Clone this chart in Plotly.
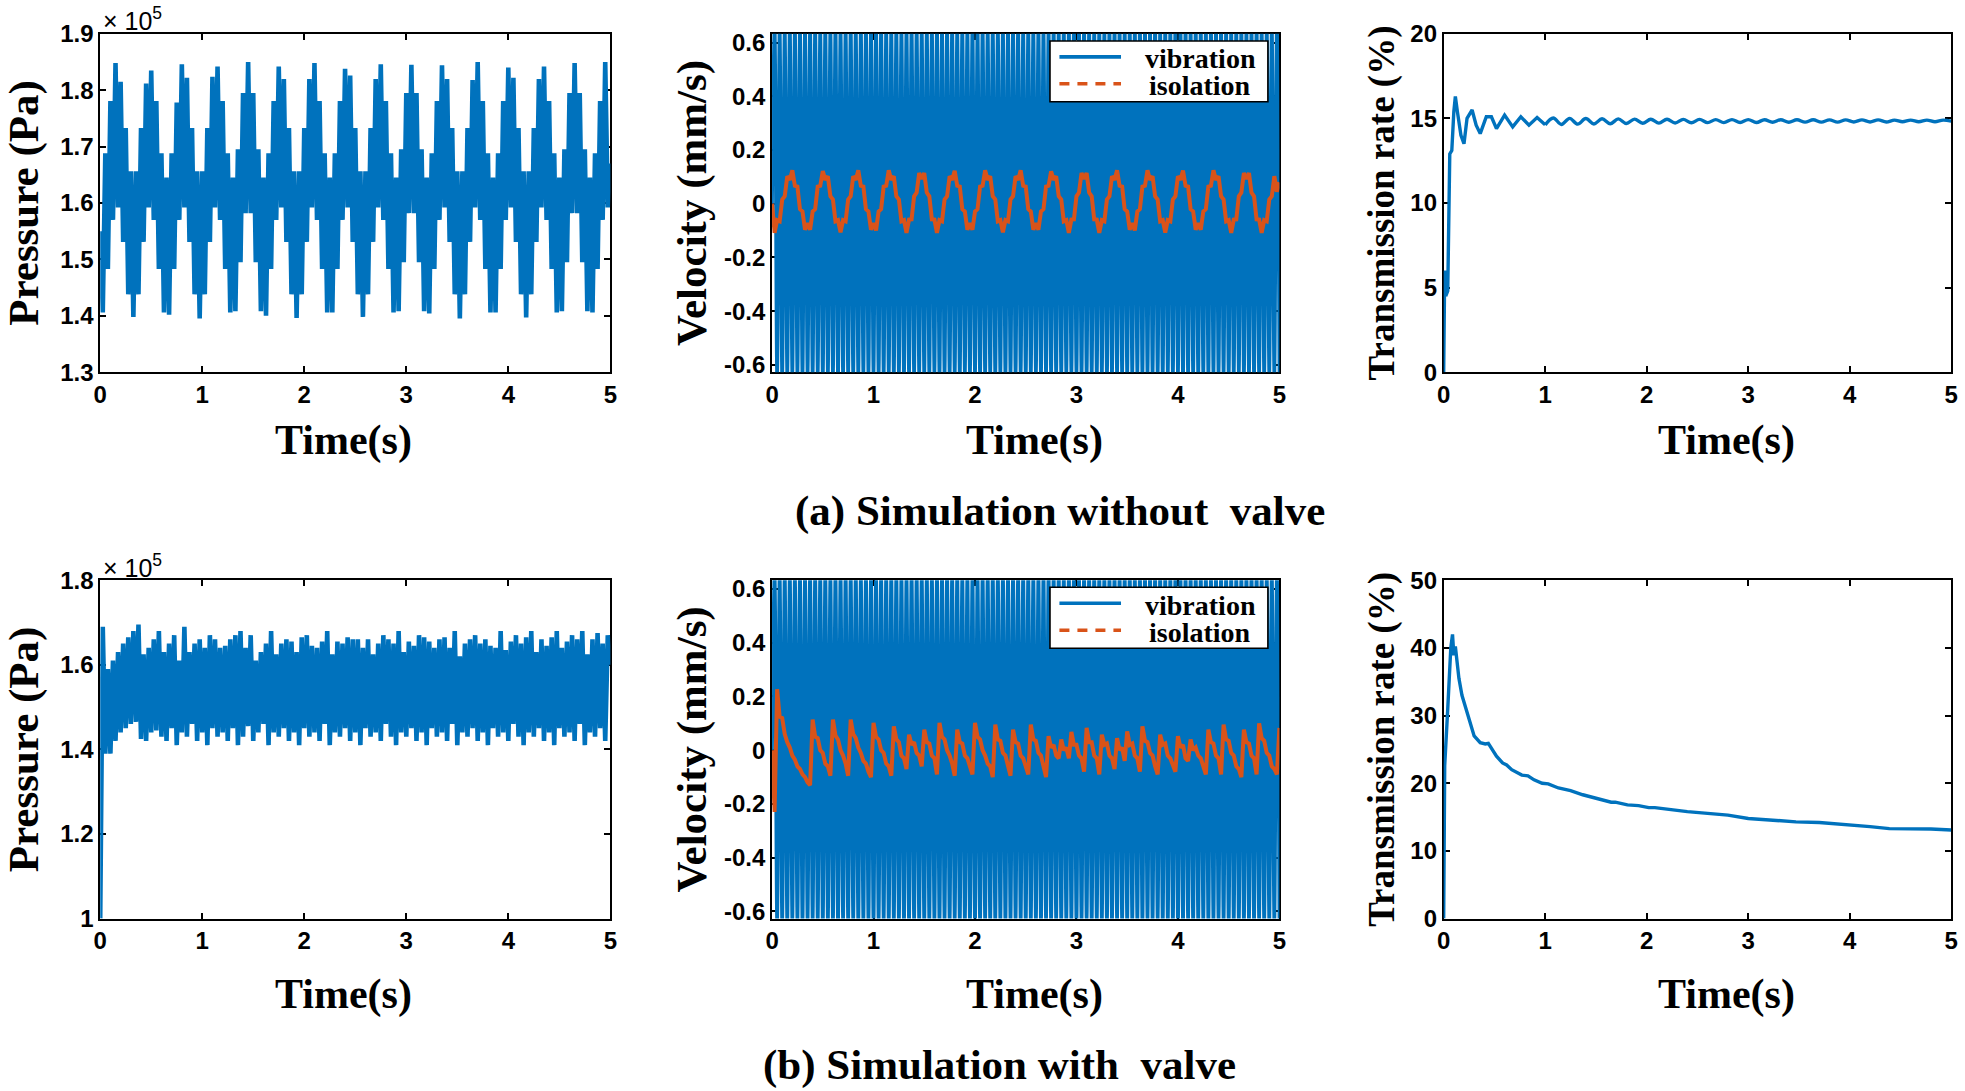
import plotly.graph_objects as go

# ---------------- data ----------------
# dense signals are sampled every 0.025 s from t = 0 to t = 5 s
DT = 0.025

# (a) without valve: pressure in units of 1e5 Pa
pressure_a = [
    1.55, 1.406, 1.688, 1.483, 1.781, 1.570, 1.848, 1.592, 1.815, 1.531, 1.733, 1.438, 1.656,
    1.398, 1.656, 1.438, 1.733, 1.531, 1.812, 1.592, 1.835, 1.570, 1.781, 1.483, 1.688, 1.406,
    1.645, 1.402, 1.688, 1.483, 1.778, 1.570, 1.846, 1.592, 1.822, 1.531, 1.733, 1.438, 1.656,
    1.395, 1.656, 1.438, 1.733, 1.531, 1.824, 1.592, 1.842, 1.570, 1.781, 1.483, 1.688, 1.406,
    1.645, 1.408, 1.695, 1.495, 1.795, 1.582, 1.850, 1.582, 1.795, 1.495, 1.695, 1.408,
    1.645, 1.400, 1.688, 1.483, 1.781, 1.570, 1.842, 1.592, 1.820, 1.531, 1.733, 1.438, 1.656,
    1.396, 1.656, 1.438, 1.733, 1.531, 1.820, 1.592, 1.848, 1.570, 1.781, 1.483, 1.688, 1.406,
    1.645, 1.406, 1.688, 1.483, 1.781, 1.570, 1.838, 1.592, 1.826, 1.531, 1.733, 1.438, 1.656,
    1.398, 1.656, 1.438, 1.733, 1.531, 1.820, 1.592, 1.846, 1.570, 1.781, 1.483, 1.688, 1.406,
    1.645, 1.408, 1.695, 1.495, 1.795, 1.582, 1.845, 1.582, 1.795, 1.495, 1.695, 1.408,
    1.645, 1.404, 1.688, 1.483, 1.781, 1.570, 1.844, 1.592, 1.820, 1.531, 1.733, 1.438, 1.656,
    1.395, 1.656, 1.438, 1.733, 1.531, 1.818, 1.592, 1.850, 1.570, 1.781, 1.483, 1.688, 1.406,
    1.645, 1.406, 1.688, 1.483, 1.781, 1.570, 1.840, 1.592, 1.822, 1.531, 1.733, 1.438, 1.656,
    1.397, 1.656, 1.438, 1.733, 1.531, 1.820, 1.592, 1.842, 1.570, 1.781, 1.483, 1.688, 1.406,
    1.645, 1.408, 1.695, 1.495, 1.795, 1.582, 1.848, 1.582, 1.795, 1.495, 1.695, 1.408,
    1.645, 1.406, 1.688, 1.483, 1.781, 1.570, 1.850, 1.592, 1.670,
]

vibration_a = [
    0.0, 0.66, -0.64, 0.655, -0.645, 0.66, -0.64, 0.665, -0.635, 0.66,
    -0.64, 0.655, -0.645, 0.66, -0.64, 0.665, -0.64, 0.66, -0.635, 0.655,
    -0.645, 0.66, -0.64, 0.66, -0.635, 0.665, -0.645, 0.655, -0.64, 0.66,
    -0.64, 0.665, -0.64, 0.655, -0.645, 0.66, -0.635, 0.66, -0.64, 0.665,
    -0.635, 0.66, -0.645, 0.665, -0.64, 0.655, -0.64, 0.66, -0.645, 0.66,
    -0.64, 0.655, -0.645, 0.66, -0.64, 0.665, -0.64, 0.66, -0.635, 0.655,
    -0.645, 0.66, -0.64, 0.66, -0.635, 0.665, -0.645, 0.655, -0.64, 0.66,
    -0.64, 0.665, -0.64, 0.655, -0.645, 0.66, -0.635, 0.66, -0.64, 0.665,
    -0.635, 0.66, -0.645, 0.665, -0.64, 0.655, -0.64, 0.66, -0.645, 0.66,
    -0.64, 0.655, -0.645, 0.66, -0.64, 0.665, -0.64, 0.66, -0.635, 0.655,
    -0.645, 0.66, -0.64, 0.66, -0.635, 0.665, -0.645, 0.655, -0.64, 0.66,
    -0.64, 0.665, -0.64, 0.655, -0.645, 0.66, -0.635, 0.66, -0.64, 0.665,
    -0.635, 0.66, -0.645, 0.665, -0.64, 0.655, -0.64, 0.66, -0.645, 0.66,
    -0.64, 0.655, -0.645, 0.66, -0.64, 0.665, -0.64, 0.66, -0.635, 0.655,
    -0.645, 0.66, -0.64, 0.66, -0.635, 0.665, -0.645, 0.655, -0.64, 0.66,
    -0.64, 0.665, -0.64, 0.655, -0.645, 0.66, -0.635, 0.66, -0.64, 0.665,
    -0.635, 0.66, -0.645, 0.665, -0.64, 0.655, -0.64, 0.66, -0.645, 0.66,
    -0.64, 0.655, -0.645, 0.66, -0.64, 0.665, -0.64, 0.66, -0.635, 0.655,
    -0.645, 0.66, -0.64, 0.66, -0.635, 0.665, -0.645, 0.655, -0.64, 0.66,
    -0.64, 0.665, -0.64, 0.655, -0.645, 0.66, -0.635, 0.66, -0.64, 0.665,
    -0.64,
]

isolation_a = [
    0.0,
    -0.108, -0.061, -0.065, 0.016, 0.028, 0.103, 0.089, 0.125, 0.067, 0.064, -0.020, -0.029, -0.097,
    -0.072, -0.097, -0.029, -0.020, 0.064, 0.067, 0.122, 0.089, 0.103, 0.028, 0.016, -0.065, -0.061,
    -0.106, -0.061, -0.065, 0.016, 0.028, 0.103, 0.089, 0.125, 0.067, 0.064, -0.020, -0.029, -0.097,
    -0.072, -0.099, -0.029, -0.020, 0.064, 0.067, 0.125, 0.089, 0.103, 0.028, 0.016, -0.065, -0.061,
    -0.108, -0.059, -0.058, 0.028, 0.042, 0.115, 0.092, 0.115, 0.042, 0.028, -0.058, -0.059,
    -0.108, -0.061, -0.065, 0.016, 0.028, 0.103, 0.089, 0.123, 0.067, 0.064, -0.020, -0.029, -0.097,
    -0.072, -0.097, -0.029, -0.020, 0.064, 0.067, 0.125, 0.089, 0.103, 0.028, 0.016, -0.065, -0.061,
    -0.106, -0.061, -0.065, 0.016, 0.028, 0.103, 0.089, 0.125, 0.067, 0.064, -0.020, -0.029, -0.097,
    -0.072, -0.097, -0.029, -0.020, 0.064, 0.067, 0.121, 0.089, 0.103, 0.028, 0.016, -0.065, -0.061,
    -0.108, -0.059, -0.058, 0.028, 0.042, 0.115, 0.092, 0.115, 0.042, 0.028, -0.058, -0.059,
    -0.108, -0.061, -0.065, 0.016, 0.028, 0.103, 0.089, 0.125, 0.067, 0.064, -0.020, -0.029, -0.097,
    -0.072, -0.099, -0.029, -0.020, 0.064, 0.067, 0.125, 0.089, 0.103, 0.028, 0.016, -0.065, -0.061,
    -0.107, -0.061, -0.065, 0.016, 0.028, 0.103, 0.089, 0.124, 0.067, 0.064, -0.020, -0.029, -0.097,
    -0.072, -0.097, -0.029, -0.020, 0.064, 0.067, 0.125, 0.089, 0.103, 0.028, 0.016, -0.065, -0.061,
    -0.108, -0.059, -0.058, 0.028, 0.042, 0.115, 0.092, 0.115, 0.042, 0.028, -0.058, -0.059,
    -0.108, -0.061, -0.065, 0.016, 0.028, 0.103, 0.045, 0.080,
]

# transmission rate (%), transient then every 0.08 s from t = 1.0 s
trans_a_t = [0, 0.01, 0.02, 0.04, 0.06, 0.08, 0.1, 0.115, 0.135, 0.15, 0.17, 0.2, 0.23,
             0.28, 0.32, 0.36, 0.42, 0.47, 0.52, 0.6, 0.68, 0.76, 0.84, 0.92, 1.0]
trans_a = [0, 6.0, 4.5, 4.8, 12.9, 13.1, 15.4, 16.3, 15.4, 14.8, 14.0, 13.5, 15.0,
           15.5, 14.6, 14.1, 15.1, 15.1, 14.4, 15.2, 14.5, 15.1, 14.6, 15.05, 14.62]
trans_a_tail = [
    14.62, 15.02, 14.64, 15.0, 14.66, 14.99, 14.67, 14.98, 14.68, 14.97,
    14.70, 14.96, 14.71, 14.95, 14.72, 14.95, 14.73, 14.94, 14.74, 14.94,
    14.75, 14.93, 14.75, 14.93, 14.76, 14.93, 14.76, 14.92, 14.77, 14.92,
    14.77, 14.92, 14.78, 14.92, 14.78, 14.91, 14.78, 14.91, 14.79, 14.91,
    14.79, 14.91, 14.79, 14.90, 14.80, 14.90, 14.80, 14.90, 14.80, 14.90,
    14.84,
]

# (b) with valve
pressure_b = [
    1.0,
    1.69, 1.39, 1.59, 1.39, 1.61, 1.42, 1.63, 1.44, 1.65, 1.45, 1.665, 1.46, 1.68, 1.465, 1.695,
    1.425, 1.625, 1.42, 1.64,
    1.44, 1.66, 1.445, 1.68, 1.43, 1.63, 1.42, 1.65, 1.45, 1.67,
    1.41, 1.61, 1.44, 1.69, 1.43, 1.63, 1.46, 1.65, 1.42, 1.66,
    1.44, 1.64, 1.41, 1.67, 1.45, 1.66, 1.43, 1.64, 1.44, 1.645,
    1.42, 1.66, 1.45, 1.67, 1.41, 1.68, 1.43, 1.64, 1.455, 1.67,
    1.42, 1.61, 1.44, 1.63, 1.46, 1.65, 1.41, 1.68, 1.44, 1.625,
    1.43, 1.65, 1.45, 1.66, 1.42, 1.655, 1.44, 1.63, 1.41, 1.665,
    1.45, 1.67, 1.43, 1.645, 1.44, 1.64, 1.42, 1.655, 1.46, 1.68,
    1.41, 1.625, 1.44, 1.655, 1.43, 1.65, 1.45, 1.665, 1.42, 1.66,
    1.44, 1.66, 1.41, 1.64, 1.45, 1.66, 1.43, 1.625, 1.44, 1.65,
    1.42, 1.67, 1.46, 1.66, 1.43, 1.65, 1.41, 1.68, 1.44, 1.63,
    1.43, 1.655, 1.45, 1.645, 1.42, 1.67, 1.44, 1.665, 1.41, 1.655,
    1.45, 1.64, 1.43, 1.66, 1.44, 1.665, 1.42, 1.64, 1.46, 1.68,
    1.41, 1.62, 1.44, 1.65, 1.43, 1.66, 1.45, 1.67, 1.42, 1.65,
    1.44, 1.66, 1.41, 1.645, 1.45, 1.64, 1.43, 1.68, 1.44, 1.635,
    1.42, 1.655, 1.46, 1.67, 1.43, 1.65, 1.41, 1.665, 1.44, 1.68,
    1.43, 1.63, 1.45, 1.66, 1.42, 1.645, 1.44, 1.665, 1.41, 1.68,
    1.45, 1.64, 1.43, 1.655, 1.44, 1.67, 1.42, 1.66, 1.46, 1.68,
    1.41, 1.625, 1.44, 1.66, 1.43, 1.675, 1.45, 1.65, 1.42, 1.67,
    1.60,
]

vibration_b = [
    0.0, 0.655, -0.64, 0.66, -0.64, 0.665, -0.645, 0.66, -0.635, 0.655,
    -0.64, 0.66, -0.645, 0.655, -0.64, 0.665, -0.635, 0.66, -0.64, 0.66,
    -0.645, 0.665, -0.64, 0.655, -0.64, 0.66, -0.645, 0.66, -0.635, 0.665,
    -0.64, 0.66, -0.635, 0.665, -0.645, 0.655, -0.64, 0.66, -0.64, 0.655,
    -0.645, 0.655, -0.64, 0.66, -0.635, 0.66, -0.645, 0.665, -0.64, 0.66,
    -0.64, 0.66, -0.645, 0.655, -0.64, 0.665, -0.635, 0.66, -0.64, 0.66,
    -0.645, 0.665, -0.64, 0.655, -0.64, 0.66, -0.645, 0.66, -0.635, 0.665,
    -0.64, 0.66, -0.635, 0.665, -0.645, 0.655, -0.64, 0.66, -0.64, 0.655,
    -0.645, 0.655, -0.64, 0.66, -0.635, 0.66, -0.645, 0.665, -0.64, 0.66,
    -0.64, 0.66, -0.645, 0.655, -0.64, 0.665, -0.635, 0.66, -0.64, 0.66,
    -0.645, 0.665, -0.64, 0.655, -0.64, 0.66, -0.645, 0.66, -0.635, 0.665,
    -0.64, 0.66, -0.635, 0.665, -0.645, 0.655, -0.64, 0.66, -0.64, 0.655,
    -0.645, 0.655, -0.64, 0.66, -0.635, 0.66, -0.645, 0.665, -0.64, 0.66,
    -0.64, 0.66, -0.645, 0.655, -0.64, 0.665, -0.635, 0.66, -0.64, 0.66,
    -0.645, 0.665, -0.64, 0.655, -0.64, 0.66, -0.645, 0.66, -0.635, 0.665,
    -0.64, 0.66, -0.635, 0.665, -0.645, 0.655, -0.64, 0.66, -0.64, 0.655,
    -0.645, 0.655, -0.64, 0.66, -0.635, 0.66, -0.645, 0.665, -0.64, 0.66,
    -0.64, 0.66, -0.645, 0.655, -0.64, 0.665, -0.635, 0.66, -0.64, 0.66,
    -0.645, 0.665, -0.64, 0.655, -0.64, 0.66, -0.645, 0.66, -0.635, 0.665,
    -0.64, 0.66, -0.635, 0.665, -0.645, 0.655, -0.64, 0.66, -0.64, 0.655,
    -0.64,
]

isolation_b = [
    0.0, -0.23, 0.227, 0.125, 0.12, 0.06, 0.03, 0.01, -0.02, -0.035, -0.06, -0.07, -0.09, -0.10, -0.12, -0.13,
    0.114, 0.05, 0.045, 0.0, -0.01, -0.05, -0.06, -0.095,
    0.114, 0.055, 0.04, 0.0, -0.02, -0.05, -0.095,
    0.114, 0.06, 0.045, 0.01, -0.01, -0.04, -0.05, -0.08, -0.1,
    0.102, 0.05, 0.04, 0.0, -0.01, -0.05, -0.06, -0.095,
    0.089, 0.04, 0.03, -0.02, -0.03, -0.07,
    0.058, 0.02, 0.03, -0.01, -0.02, -0.06,
    0.077, 0.03, 0.025, -0.02, -0.03, -0.09,
    0.102, 0.05, 0.04, 0.0, -0.02, -0.05, -0.095,
    0.077, 0.03, 0.025, -0.02, -0.03, -0.06, -0.09,
    0.102, 0.05, 0.04, 0.0, -0.02, -0.05, -0.06, -0.1,
    0.095, 0.04, 0.035, -0.01, -0.02, -0.06, -0.095,
    0.077, 0.03, 0.025, -0.02, -0.03, -0.06, -0.09,
    0.095, 0.04, 0.035, -0.01, -0.02, -0.06, -0.1,
    0.052, 0.01, 0.02, -0.02, -0.03,
    0.04, 0.0, 0.01, -0.03,
    0.068, 0.02, 0.02, -0.02, -0.03, -0.08,
    0.083, 0.03, 0.03, -0.02, -0.03, -0.09,
    0.058, 0.02, 0.025, -0.02, -0.03, -0.07,
    0.045, 0.0, 0.01, -0.04,
    0.07, 0.02, 0.025, -0.02, -0.03, -0.08,
    0.089, 0.035, 0.03, -0.01, -0.02, -0.06, -0.09,
    0.058, 0.02, 0.025, -0.02, -0.03, -0.06, -0.08,
    0.052, 0.01, 0.02, -0.03, -0.04,
    0.04, 0.0, 0.01, -0.02, -0.03, -0.06, -0.09,
    0.077, 0.03, 0.025, -0.02, -0.03, -0.09,
    0.095, 0.04, 0.035, -0.01, -0.02, -0.06, -0.07, -0.1,
    0.077, 0.03, 0.025, -0.02, -0.03, -0.09,
    0.10, 0.045, 0.035, -0.01, -0.02, -0.06, -0.07, -0.09,
    0.083,
]

trans_b_t = [0, 0.005, 0.01, 0.04, 0.07, 0.087, 0.1, 0.115, 0.13, 0.15, 0.18, 0.22, 0.26,
             0.3, 0.36, 0.41, 0.44, 0.48, 0.52, 0.58, 0.62, 0.67, 0.77, 0.83, 0.89, 0.97,
             1.03, 1.13, 1.21, 1.25, 1.37, 1.45, 1.55, 1.65, 1.69, 1.81, 1.92, 2.02, 2.08,
             2.25, 2.3, 2.4, 2.48, 2.6, 2.8, 3.0, 3.2, 3.47, 3.7, 3.99, 4.2, 4.39, 4.6,
             4.8, 5.0]
trans_b = [0, 12.0, 22.6, 31.0, 40.0, 42.0, 38.9, 40.2, 38.0, 35.5, 33.0, 31.0, 29.0,
           27.0, 26.0, 25.8, 25.9, 25.0, 24.0, 23.0, 22.7, 22.0, 21.2, 21.1, 20.5, 20.0,
           19.9, 19.3, 19.0, 18.9, 18.3, 18.0, 17.6, 17.2, 17.2, 16.8, 16.7, 16.4, 16.4,
           16.0, 16.0, 15.8, 15.7, 15.6, 15.3, 14.8, 14.6, 14.3, 14.2, 13.9, 13.6, 13.3, 13.3,
           13.25, 13.1]

# axis ticks
time_ticks = [0, 1, 2, 3, 4, 5]
vel_ticks = [-0.6, -0.4, -0.2, 0, 0.2, 0.4, 0.6]
vel_labels = ["-0.6", "-0.4", "-0.2", "0", "0.2", "0.4", "0.6"]

# ---------------- figure ----------------
BLUE = "#0072BD"
ORANGE = "#D95319"
SERIF = "Liberation Serif, Times New Roman, serif"
SANS = "Liberation Sans, Arial, sans-serif"

fig = go.Figure()


def line_trace(xa, ya, color, width, shape="linear", **kw):
    return go.Scatter(mode="lines", line=dict(color=color, width=width, shape=shape),
                      xaxis=xa, yaxis=ya, showlegend=False, hoverinfo="skip", **kw)


fig.add_trace(line_trace("x", "y", BLUE, 4.6, y=pressure_a, x0=0, dx=DT))
fig.add_trace(line_trace("x2", "y2", BLUE, 3.6, "spline", y=vibration_a, x0=0, dx=DT))
fig.add_trace(line_trace("x2", "y2", ORANGE, 4.0, y=isolation_a, x0=0, dx=DT))
fig.add_trace(line_trace("x3", "y3", BLUE, 3.4, x=trans_a_t, y=trans_a))
fig.add_trace(line_trace("x3", "y3", BLUE, 3.4, "spline", y=trans_a_tail, x0=1.0, dx=0.08))

fig.add_trace(line_trace("x4", "y4", BLUE, 4.6, y=pressure_b, x0=0, dx=DT))
fig.add_trace(line_trace("x5", "y5", BLUE, 3.6, "spline", y=vibration_b, x0=0, dx=DT))
fig.add_trace(line_trace("x5", "y5", ORANGE, 4.0, y=isolation_b, x0=0, dx=DT))
fig.add_trace(line_trace("x6", "y6", BLUE, 3.4, x=trans_b_t, y=trans_b))

cols = [(0.0510, 0.3106), (0.3929, 0.6511), (0.7347, 0.9930)]
rows = [(0.6589, 0.9690), (0.1580, 0.4682)]


def frame(**extra):
    ax = dict(showline=True, linecolor="black", linewidth=1.8, mirror="ticks",
              ticks="inside", ticklen=6, tickwidth=1.5, tickcolor="black",
              showgrid=False, zeroline=False, layer="below traces", automargin=False,
              tickfont=dict(family=SANS, size=24, color="black", weight="bold"))
    ax.update(extra)
    return ax


def ytitle(text, size, standoff=6):
    return dict(text=text, font=dict(family=SERIF, size=size, color="black", weight="bold"),
                standoff=standoff)


y_specs = [
    dict(range=[1.3, 1.9], tickvals=[1.3, 1.4, 1.5, 1.6, 1.7, 1.8, 1.9], title=ytitle("Pressure (Pa)", 43, 9)),
    dict(range=[-0.627, 0.633], tickvals=vel_ticks, ticktext=vel_labels, title=ytitle("Velocity (mm/s)", 43, 4)),
    dict(range=[0, 20], tickvals=[0, 5, 10, 15, 20], title=ytitle("Transmission rate (%)", 37, 4)),
    dict(range=[1, 1.8], tickvals=[1, 1.2, 1.4, 1.6, 1.8], title=ytitle("Pressure (Pa)", 43, 9)),
    dict(range=[-0.627, 0.633], tickvals=vel_ticks, ticktext=vel_labels, title=ytitle("Velocity (mm/s)", 43, 4)),
    dict(range=[0, 50], tickvals=[0, 10, 20, 30, 40, 50], title=ytitle("Transmission rate (%)", 37, 4)),
]

layout_axes = {}
for i in range(6):
    r, c = divmod(i, 3)
    n = "" if i == 0 else str(i + 1)
    layout_axes["xaxis" + n] = frame(domain=list(cols[c]), anchor="y" + n, range=[0, 5],
                                     tickvals=time_ticks)
    layout_axes["yaxis" + n] = frame(domain=list(rows[r]), anchor="x" + n, **y_specs[i])

fig.update_layout(
    width=1965, height=1091,
    margin=dict(l=0, r=0, t=0, b=0, autoexpand=False),
    paper_bgcolor="white", plot_bgcolor="white",
    showlegend=False,
    **layout_axes,
)

# x axis titles and panel captions
time_pos = [0.1746, 0.5267, 0.8784]
for yy in (0.5958, 0.0889):
    for xx in time_pos:
        fig.add_annotation(text="Time(s)", x=xx, y=yy, xref="paper", yref="paper",
                           showarrow=False, xanchor="center", yanchor="middle",
                           font=dict(family=SERIF, size=42, color="black", weight="bold"))

fig.add_annotation(text="(a) Simulation without  valve", x=0.5392, y=0.5313, xref="paper", yref="paper",
                   showarrow=False, xanchor="center", yanchor="middle",
                   font=dict(family=SERIF, size=43, color="black", weight="bold"))
fig.add_annotation(text="(b) Simulation with  valve", x=0.5089, y=0.0236, xref="paper", yref="paper",
                   showarrow=False, xanchor="center", yanchor="middle",
                   font=dict(family=SERIF, size=43, color="black", weight="bold"))

# exponent labels on the pressure axes
for yy in (0.9826, 0.4812):
    fig.add_annotation(text="× 10<sup>5</sup>", x=0.0515, y=yy, xref="paper", yref="paper",
                       showarrow=False, xanchor="left", yanchor="middle",
                       font=dict(family=SANS, size=25, color="black"))

# legend boxes on the velocity panels
for xd, yd in (("x2 domain", "y2 domain"), ("x5 domain", "y5 domain")):
    fig.add_shape(type="rect", xref=xd, yref=yd, x0=0.5478, x1=0.9773, y0=0.799, y1=0.979,
                  fillcolor="white", line=dict(color="black", width=1.6))
    fig.add_shape(type="line", xref=xd, yref=yd, x0=0.5664, x1=0.6878, y0=0.932, y1=0.932,
                  line=dict(color=BLUE, width=3.6))
    fig.add_shape(type="line", xref=xd, yref=yd, x0=0.5664, x1=0.6878, y0=0.8522, y1=0.8522,
                  line=dict(color=ORANGE, width=3.6, dash="10px,8px"))
    for label, yy in (("vibration", 0.926), ("isolation", 0.8463)):
        fig.add_annotation(text=label, x=0.8438, y=yy, xref=xd, yref=yd, showarrow=False,
                           xanchor="center", yanchor="middle",
                           font=dict(family=SERIF, size=28, color="black", weight="bold"))

# the page body keeps its default 8px margin unless it is cleared
fig.write_html("out.html", config={"displayModeBar": False},
               post_script="document.body.style.margin = '0';")
